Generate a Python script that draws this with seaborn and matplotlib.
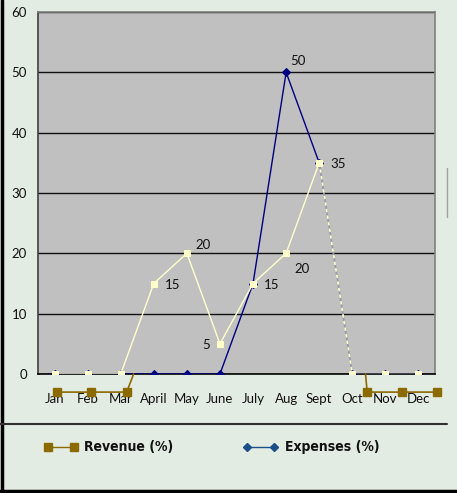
import numpy as np
import pandas as pd
import seaborn as sns
import matplotlib.pyplot as plt
from matplotlib.lines import Line2D

# data
months = ['Jan', 'Feb', 'Mar', 'April', 'May', 'June', 'July', 'Aug', 'Sept', 'Oct', 'Nov', 'Dec']
profit = [0, 0, 0, 15, 20, 5, 15, 20, 35, 0, 0, 0]          # cream series (labelled)
expenses = [0, 0, 0, 0, 0, 0, 15, 50, 35, 0, 0, 0]
# revenue markers sit just under the axis, slightly shifted from the month centres
rev_x_a = [0.07, 1.1, 2.18, 2.39]
rev_y_a = [-3, -3, -3, 0]
rev_x_b = [9.4, 9.45, 10.5, 11.56]
rev_y_b = [0, -3, -3, -3]

sns.set_style('white')
plt.rcParams['font.family'] = ['Lato', 'DejaVu Sans']

bg = '#E3ECE3'
fig = plt.figure(figsize=(4.57, 4.93), dpi=100, facecolor=bg)
ax = fig.add_axes([38 / 457, 1 - 374 / 493, (435 - 38) / 457, (374 - 12) / 493])
ax.set_facecolor('#C0C0C0')

x = np.arange(len(months))
df = pd.DataFrame({'x': x, 'profit': profit, 'expenses': expenses})

# expenses (navy) up to Sept, then the faint dashed drop to Oct
sns.lineplot(data=df.iloc[:9], x='x', y='expenses', color='#000080', lw=1,
             marker='D', markersize=4, markeredgecolor='#000080', ax=ax, zorder=3)
sns.lineplot(data=df.iloc[8:10], x='x', y='expenses', color='#9A9AA8', lw=1.3,
             ax=ax, zorder=3)
sns.lineplot(data=df.iloc[9:], x='x', y='expenses', color='#000080', lw=1,
             marker='D', markersize=4, markeredgecolor='#000080', ax=ax, zorder=3)

# cream series on top
sns.lineplot(data=df.iloc[:9], x='x', y='profit', color='#FFFFCC', lw=1,
             marker='s', markersize=4.6, markeredgecolor='#FFFFCC', ax=ax, zorder=4)
ax.plot(x[8:10], df['profit'][8:10], color='#FFFFCC', lw=1.2, ls=(0, (2, 2)), zorder=4)
sns.lineplot(data=df.iloc[9:], x='x', y='profit', color='#FFFFCC', lw=1,
             marker='s', markersize=4.6, markeredgecolor='#FFFFCC', ax=ax, zorder=4)

# revenue (brown) below the axis
brown = '#8B6A00'
for rx, ry in [(rev_x_a, rev_y_a), (rev_x_b, rev_y_b)]:
    ax.plot(rx, ry, color=brown, lw=1.2, clip_on=False, zorder=5)
    ax.plot(rx[:3] if ry[-1] == 0 else rx[1:], [v for v in ry if v != 0],
            ls='none', marker='s', ms=5.2, color=brown, clip_on=False, zorder=5)

# data labels
lab_font = dict(fontsize=9.5, color='#111111')
offsets = {3: (8, -4), 4: (6, 3), 5: (-13, -4), 6: (8, -4), 7: (6, -14), 8: (8, -4)}
for i, (dx, dy) in offsets.items():
    ax.annotate(str(profit[i]), (x[i], profit[i]), xytext=(dx, dy),
                textcoords='offset points', **lab_font)
ax.annotate(str(expenses[7]), (x[7], expenses[7]), xytext=(3, 5),
            textcoords='offset points', **lab_font)

ax.set_xlim(-0.5, 11.5)
ax.set_ylim(0, 60)
ax.set_yticks(range(0, 61, 10))
ax.set_xticks(x)
ax.set_xticklabels(months)
ax.set_xticks(np.arange(-0.5, 12, 1), minor=True)
ax.tick_params(axis='x', which='major', length=0, pad=14, labelsize=9.5, labelcolor='#111111')
ax.tick_params(axis='x', which='minor', length=4, direction='out', color='black', width=1)
ax.tick_params(axis='y', length=5, direction='out', color='black', width=1, labelsize=9.5,
               pad=3, labelcolor='#111111')
ax.set_xlabel('')
ax.set_ylabel('')
ax.yaxis.grid(True, color='#111111', lw=1)
ax.set_axisbelow(True)
for side in ['top', 'right']:
    ax.spines[side].set_color('#808080')
    ax.spines[side].set_linewidth(1.2)
ax.spines['left'].set_color('#404040')
ax.spines['left'].set_linewidth(1.2)
ax.spines['bottom'].set_color('black')
ax.spines['bottom'].set_linewidth(1.2)
if ax.get_legend():
    ax.get_legend().remove()

# figure frame bits
fig.add_artist(Line2D([2 / 457, 2 / 457], [0, 1], color='black', lw=2.5))
fig.add_artist(Line2D([0, 1], [1 - 491 / 493] * 2, color='black', lw=2.5))
fig.add_artist(Line2D([0, 447 / 457], [1 - 424 / 493] * 2, color='#303030', lw=1.5))
fig.add_artist(Line2D([447 / 457] * 2, [1 - 168 / 493, 1 - 217 / 493], color='#A0A0A0', lw=1))

# legend, placed by hand
leg_y = 1 - 447 / 493
leg_font = dict(family=['DejaVu Sans'], stretch='condensed', weight='bold', size=10,
                color='#111111', va='center', ha='left')
for (x0, x1), col, mk, ms, lab, tx in [((48, 74), brown, 's', 5.2, 'Revenue (%)', 84),
                                       ((247, 274), '#1B4F8A', 'D', 4, 'Expenses (%)', 285)]:
    fig.add_artist(Line2D([x0 / 457, x1 / 457], [leg_y, leg_y], color=col, lw=1,
                          marker=mk, ms=ms))
    fig.text(tx / 457, leg_y, lab, **leg_font)

fig.savefig('out.png', dpi=100, facecolor=bg)
